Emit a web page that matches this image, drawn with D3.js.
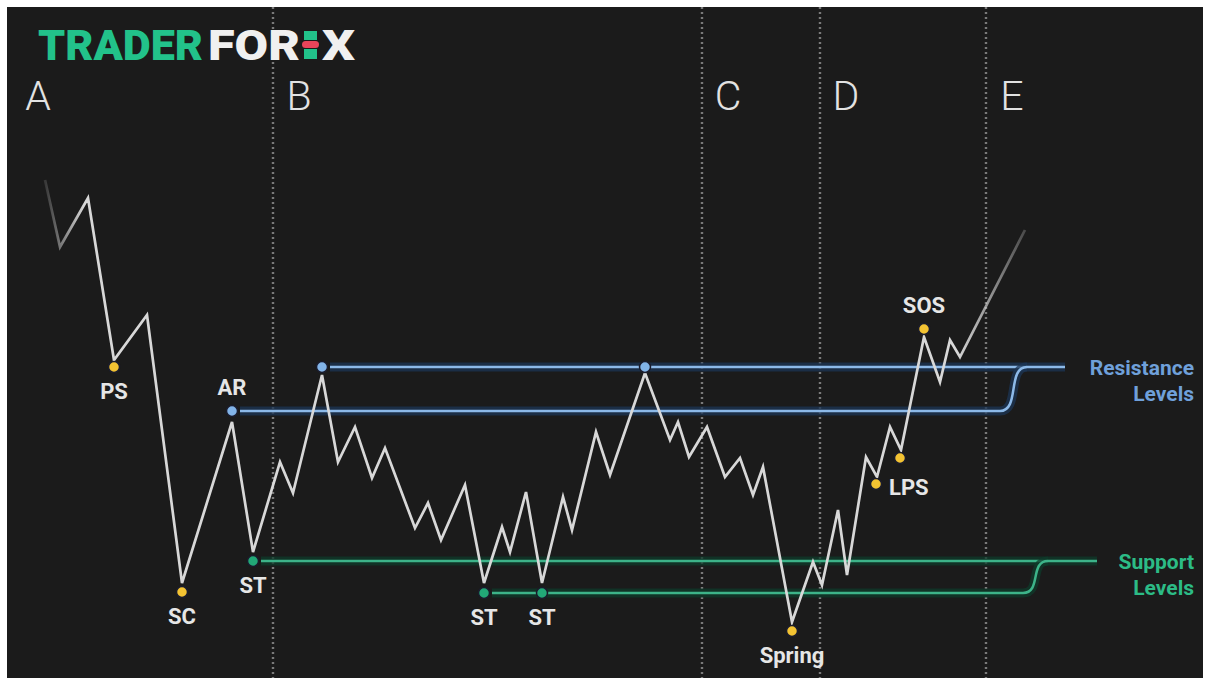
<!DOCTYPE html>
<html lang="en">
<head>
<meta charset="UTF-8">
<title>Wyckoff Accumulation</title>
<script src="https://d3js.org/d3.v7.min.js"></script>
<style>
  html, body { margin: 0; padding: 0; background: #fff; }
  svg { display: block; }
  text { font-family: Roboto, "Liberation Sans", sans-serif; }
</style>
</head>
<body>
<svg width="1205" height="681"></svg>
<script>
// price path: time step and price
const priceT = [0, 3, 8.6, 13.8, 20.4, 27.4, 37.4, 41.6, 47, 49.6, 55.4, 58.6, 62, 65.4, 68, 74, 76.6, 79.2, 84,
  87.8, 91.4, 93, 96.2, 99.4, 103.6, 105.4, 110.2, 113, 120, 125, 126.6, 128.8, 132.4, 136, 139, 141.6, 143.6,
  149.4, 153.6, 155.4, 158.6, 160.4, 164.2, 166.4, 169, 171.2, 175.8, 179, 181, 183, 196];
const priceP = [92, 78.6, 88.4, 56, 65, 11.4, 43.6, 17.6, 35.6, 29.4, 53, 35.6, 42.6, 32.4, 38.4, 22.4, 27.4, 20, 31,
  11.4, 22.6, 17.6, 29.6, 11.4, 28.6, 22, 41.6, 33, 53.4, 40, 43.6, 36.6, 42.6, 32.6, 36.4, 29, 34.6,
  3.6, 15.6, 11, 26, 13, 36.6, 32.6, 42.6, 38, 60.6, 51.6, 60, 56.6, 82];

// event markers
const markerName = ["PS", "SC", "AR", "ST", "", "", "ST", "ST", "Spring", "LPS", "", "SOS"];
const markerKind = ["event", "event", "resistance", "support", "resistance", "resistance", "support", "support",
  "event", "event", "event", "event"];
const markerT = [13.8, 27.4, 37.4, 41.6, 55.4, 120, 87.8, 99.4, 149.4, 166.2, 171, 175.8];
const markerP = [54.6, 9.6, 45.8, 15.8, 54.6, 54.6, 9.4, 9.4, 1.8, 31.2, 36.4, 62.2];

// resistance / support levels
const resLevel = [54.6, 45.8];
const resStart = [55.4, 37.4];
const resEnd = [204, 191];
const supLevel = [15.8, 9.4];
const supStart = [41.6, 87.8];
const supEnd = [210.4, 195.6];
const joinEnd = { res: 196.4, sup: 200.6 };

// phases
const phaseName = ["A", "B", "C", "D", "E"];
const phaseStart = [-7.6, 45.6, 131.4, 155, 188.2];

const svg = d3.select("svg");
const x = d3.scaleLinear().domain([0, 196]).range([45, 1025]);
const y = d3.scaleLinear().domain([0, 92]).range([640, 180]);

svg.append("rect").attr("x", 7).attr("y", 7).attr("width", 1196).attr("height", 671).attr("fill", "#1b1b1b");

const colors = {
  event: "#f3c332",
  resistance: "#82b4e8",
  support: "#22a877"
};

// phase dividers
svg.selectAll(".phase-line")
  .data(phaseStart.slice(1))
  .enter().append("line")
  .attr("x1", d => x(d)).attr("x2", d => x(d))
  .attr("y1", 7).attr("y2", 678)
  .attr("stroke", "#7a7a7a")
  .attr("stroke-width", 2.4)
  .attr("stroke-dasharray", "2,3");

svg.selectAll(".phase-label")
  .data(phaseName)
  .enter().append("text")
  .attr("x", (d, i) => x(phaseStart[i]) + (i === 0 ? 31 : 26))
  .attr("y", 110)
  .attr("text-anchor", "middle")
  .attr("fill", "#e2e2e2")
  .attr("font-size", 41)
  .attr("font-weight", 300)
  .text(d => d);

// level lines
function levelPath(v, t0, t1, joinT, joinV) {
  const p = d3.path();
  p.moveTo(x(t0) + 8, y(v));
  p.lineTo(x(t1), y(v));
  if (joinT != null) {
    const x0 = x(t1), x1 = x(joinT), y0 = y(v), y1 = y(joinV);
    p.bezierCurveTo(x0 + (x1 - x0) * 0.75, y0, x0 + (x1 - x0) * 0.25, y1, x1, y1);
  }
  return p.toString();
}

const levelDefs = [
  { v: resLevel[0], t0: resStart[0], t1: resEnd[0], glow: "#1c3656", core: "#8cb9e8" },
  { v: resLevel[1], t0: resStart[1], t1: resEnd[1], jt: joinEnd.res, jv: resLevel[0], glow: "#1c3656", core: "#8cb9e8" },
  { v: supLevel[0], t0: supStart[0], t1: supEnd[0], glow: "#0f3b2b", core: "#3db389" },
  { v: supLevel[1], t0: supStart[1], t1: supEnd[1], jt: joinEnd.sup, jv: supLevel[0], glow: "#0f3b2b", core: "#3db389" }
];

levelDefs.forEach(l => {
  const d = levelPath(l.v, l.t0, l.t1, l.jt, l.jv);
  svg.append("path").attr("d", d).attr("fill", "none")
    .attr("stroke", l.glow).attr("stroke-width", 9).attr("opacity", 0.75);
  svg.append("path").attr("d", d).attr("fill", "none")
    .attr("stroke", l.core).attr("stroke-width", 2.5);
});

// price line with faded ends
const grad = svg.append("defs").append("linearGradient")
  .attr("id", "fade").attr("gradientUnits", "userSpaceOnUse")
  .attr("x1", x(0)).attr("x2", x(196)).attr("y1", 0).attr("y2", 0);
grad.append("stop").attr("offset", 0).attr("stop-color", "#d8d8d8").attr("stop-opacity", 0.15);
grad.append("stop").attr("offset", 0.04).attr("stop-color", "#d8d8d8").attr("stop-opacity", 1);
grad.append("stop").attr("offset", 0.93).attr("stop-color", "#d8d8d8").attr("stop-opacity", 1);
grad.append("stop").attr("offset", 1).attr("stop-color", "#d8d8d8").attr("stop-opacity", 0.25);

const line = d3.line().x(d => x(d[0])).y(d => y(d[1]));
svg.append("path")
  .attr("d", line(d3.zip(priceT, priceP)))
  .attr("fill", "none")
  .attr("stroke", "url(#fade)")
  .attr("stroke-width", 2.7)
  .attr("stroke-linejoin", "miter");

// markers
const markers = markerName.map((n, i) => ({ name: n, kind: markerKind[i], t: markerT[i], p: markerP[i] }));

svg.selectAll(".marker")
  .data(markers)
  .enter().append("circle")
  .attr("cx", d => x(d.t))
  .attr("cy", d => y(d.p))
  .attr("r", 5.5)
  .attr("fill", d => colors[d.kind])
  .attr("stroke", "#1a1c2c")
  .attr("stroke-width", 1.5);

const above = ["AR", "SOS"];
svg.selectAll(".mlabel")
  .data(markers.filter(d => d.name))
  .enter().append("text")
  .attr("x", d => d.name === "LPS" ? x(d.t) + 13 : x(d.t))
  .attr("y", d => d.name === "LPS" ? y(d.p) + 11 : above.includes(d.name) ? y(d.p) - 16 : y(d.p) + 32)
  .attr("text-anchor", d => d.name === "LPS" ? "start" : "middle")
  .attr("fill", "#e6e6e6")
  .attr("font-size", 22)
  .attr("font-weight", 700)
  .text(d => d.name);

// level captions
const captions = [
  { lines: ["Resistance", "Levels"], v: resLevel[0], color: "#6fa0da" },
  { lines: ["Support", "Levels"], v: supLevel[0], color: "#2cbb86" }
];
captions.forEach(c => {
  c.lines.forEach((s, i) => {
    svg.append("text")
      .attr("x", 1194)
      .attr("y", y(c.v) + 8 + i * 26)
      .attr("text-anchor", "end")
      .attr("fill", c.color)
      .attr("font-size", 21)
      .attr("font-weight", 700)
      .text(s);
  });
});

// logo
const logo = svg.append("g");
logo.append("text").attr("x", 38).attr("y", 60)
  .attr("font-size", 42).attr("font-weight", 900)
  .attr("fill", "#22c28a")
  .attr("textLength", 165).attr("lengthAdjust", "spacingAndGlyphs")
  .text("TRADER");
logo.append("text").attr("x", 208).attr("y", 60)
  .attr("font-size", 42).attr("font-weight", 900)
  .attr("fill", "#f0f0f0")
  .attr("textLength", 92).attr("lengthAdjust", "spacingAndGlyphs")
  .text("FOR");
logo.append("rect").attr("x", 304).attr("y", 31).attr("width", 13).attr("height", 9).attr("fill", "#22c28a");
logo.append("rect").attr("x", 302).attr("y", 41).attr("width", 17).attr("height", 7).attr("rx", 3.5).attr("fill", "#e8445a");
logo.append("rect").attr("x", 304).attr("y", 49).attr("width", 13).attr("height", 10).attr("fill", "#22c28a");
logo.append("text").attr("x", 322).attr("y", 60)
  .attr("font-size", 42).attr("font-weight", 900)
  .attr("fill", "#f0f0f0")
  .attr("textLength", 33).attr("lengthAdjust", "spacingAndGlyphs")
  .text("X");
</script>
</body>
</html>
